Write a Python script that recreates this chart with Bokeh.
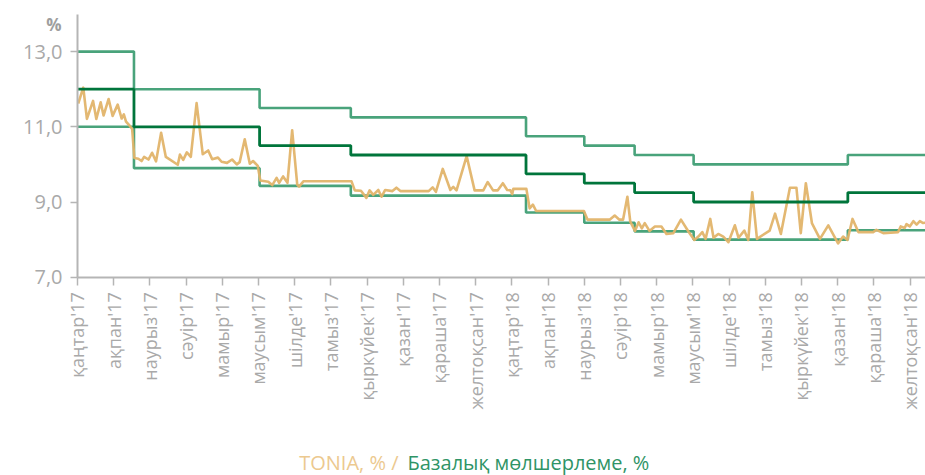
from bokeh.plotting import figure
from bokeh.models import FixedTicker, Range1d, Label
from bokeh.embed import file_html
from bokeh.resources import INLINE
import math

# Month labels (x axis, one tick per month, x measured in months since Jan 2017)
months = ["қаңтар'17", "ақпан'17", "наурыз'17", "сәуір'17", "мамыр'17", "маусым'17",
          "шілде'17", "тамыз'17", "қыркүйек'17", "қазан'17", "қараша'17", "желтоқсан'17",
          "қаңтар'18", "ақпан'18", "наурыз'18", "сәуір'18", "мамыр'18", "маусым'18",
          "шілде'18", "тамыз'18", "қыркүйек'18", "қазан'18", "қараша'18", "желтоқсан'18"]

# Base rate and corridor: change points (month index) and levels, %
rate_change_m = [0.0, 1.56, 5.03, 7.55, 12.39, 14.0, 15.39, 17.02, 21.28, 23.45]
base_rate = [12.0, 11.0, 10.5, 10.25, 9.75, 9.5, 9.25, 9.0, 9.25]
upper_band = [13.0, 12.0, 11.5, 11.25, 10.75, 10.5, 10.25, 10.0, 10.25]
lower_band = [11.0, 9.9, 9.43, 9.17, 8.72, 8.45, 8.22, 8.0, 8.25]

# TONIA, %
tonia_m = [0.02, 0.16, 0.26, 0.43, 0.52, 0.64, 0.72, 0.86, 0.97, 1.11, 1.22, 1.28, 1.34, 1.44, 1.51,
           1.57, 1.68, 1.77, 1.84, 1.96, 2.06, 2.17, 2.31, 2.44, 2.77, 2.83, 2.92, 3.02, 3.13, 3.29,
           3.46, 3.61, 3.72, 3.88, 3.98, 4.13, 4.27, 4.40, 4.48, 4.62, 4.76, 4.85, 4.98, 5.05, 5.27,
           5.38, 5.50, 5.57, 5.68, 5.80, 5.93, 6.07, 6.12, 6.24, 7.57, 7.66, 7.83, 7.98, 8.07, 8.17,
           8.31, 8.40, 8.50, 8.70, 8.81, 8.92, 9.70, 9.81, 9.90, 10.09, 10.30, 10.38, 10.47, 10.75,
           10.97, 11.21, 11.33, 11.48, 11.61, 11.75, 11.87, 11.96, 12.01, 12.04, 12.40, 12.49, 12.58,
           12.67, 13.99, 14.09, 14.70, 14.84, 14.97, 15.07, 15.19, 15.27, 15.40, 15.50, 15.59, 15.67,
           15.80, 15.95, 16.13, 16.27, 16.46, 16.67, 16.88, 17.04, 17.15, 17.26, 17.35, 17.48, 17.57,
           17.70, 17.84, 17.98, 18.16, 18.26, 18.42, 18.53, 18.64, 18.77, 19.12, 19.27, 19.43, 19.68,
           19.86, 19.98, 20.12, 20.29, 20.51, 20.74, 21.01, 21.15, 21.27, 21.41, 21.57, 21.98, 22.07,
           22.26, 22.67, 22.74, 22.85, 22.90, 22.99, 23.09, 23.18, 23.27, 23.36, 23.44]
tonia = [11.62, 12.04, 11.21, 11.69, 11.21, 11.65, 11.30, 11.74, 11.29, 11.59, 11.22, 11.33, 11.14, 11.03, 10.94,
         10.17, 10.15, 10.09, 10.20, 10.13, 10.31, 10.08, 10.84, 10.20, 9.99, 10.26, 10.12, 10.32, 10.20, 11.63,
         10.27, 10.37, 10.14, 10.18, 10.07, 10.04, 10.13, 10.00, 10.06, 10.67, 10.02, 10.09, 9.96, 9.57, 9.54,
         9.45, 9.64, 9.51, 9.68, 9.51, 10.91, 9.46, 9.41, 9.55, 9.55, 9.31, 9.30, 9.11, 9.31, 9.19,
         9.32, 9.14, 9.32, 9.29, 9.38, 9.29, 9.29, 9.39, 9.27, 9.88, 9.32, 9.40, 9.31, 10.22,
         9.31, 9.31, 9.53, 9.31, 9.31, 9.50, 9.32, 9.31, 9.21, 9.35, 9.35, 8.83, 8.93,
         8.76, 8.76, 8.53, 8.53, 8.64, 8.53, 8.53, 9.14, 8.48, 8.23, 8.46, 8.30, 8.44,
         8.23, 8.35, 8.35, 8.15, 8.17, 8.53, 8.21, 7.99, 8.08, 8.20, 8.02, 8.55, 8.05,
         8.15, 8.08, 7.93, 8.38, 8.05, 8.24, 7.99, 9.26, 8.02, 8.24, 8.69, 8.15, 9.38,
         9.38, 8.17, 9.50, 8.43, 8.02, 8.38, 7.90, 8.08, 7.99, 8.55, 8.20, 8.20, 8.26,
         8.17, 8.20, 8.35, 8.31, 8.41, 8.35, 8.49, 8.40, 8.49, 8.44, 8.45]

y_ticks = [7, 9, 11, 13]
y_tick_labels = ["7,0", "9,0", "11,0", "13,0"]

FONT = "Open Sans"
TONIA_COLOR = "#e2b46a"
BAND_COLOR = "#3f9e74"
BASE_COLOR = "#00753b"
AXIS_GREY = "#b5b5b5"
TEXT_GREY = "#a9a9a9"

# layout geometry (pixels)
W, H = 925, 475
AX_X, AX_Y = 77.0, 276.7       # pixel position of x=0 / y=7 (axes origin)
PX_PER_MONTH, PX_PER_PCT = 36.2, 37.6

x0 = -AX_X / PX_PER_MONTH
y1 = 7 + AX_Y / PX_PER_PCT
p = figure(width=W, height=H, output_backend="svg", toolbar_location=None,
           x_range=Range1d(x0, x0 + W / PX_PER_MONTH),
           y_range=Range1d(y1 - H / PX_PER_PCT, y1),
           min_border=0)
p.outline_line_color = None
p.grid.grid_line_color = None
p.background_fill_color = "white"
p.border_fill_color = "white"

def steps(vals):
    return list(vals) + [vals[-1]]

p.step(rate_change_m, steps(upper_band), mode="after", line_color=BAND_COLOR, line_width=2.6, line_alpha=0.95)
p.step(rate_change_m, steps(lower_band), mode="after", line_color=BAND_COLOR, line_width=2.6, line_alpha=0.95)
p.line(tonia_m, tonia, line_color=TONIA_COLOR, line_width=2.6, line_alpha=0.95, line_join="round")
p.step(rate_change_m, steps(base_rate), mode="after", line_color=BASE_COLOR, line_width=2.8)

# x axis
xa = p.xaxis[0]
xa.fixed_location = 7
xa.bounds = (0, rate_change_m[-1])
xa.ticker = FixedTicker(ticks=list(range(len(months))))
xa.major_label_overrides = {i: m for i, m in enumerate(months)}
xa.major_label_orientation = math.pi / 2
xa.axis_line_color = AXIS_GREY
xa.axis_line_width = 2
xa.major_tick_line_color = AXIS_GREY
xa.major_tick_line_width = 1.5
xa.major_tick_out = 8
xa.major_tick_in = 0
xa.minor_tick_line_color = None
xa.major_label_text_font = FONT
xa.major_label_text_font_size = "18px"
xa.major_label_text_color = TEXT_GREY
xa.major_label_standoff = 7

# y axis
ya = p.yaxis[0]
ya.fixed_location = 0
ya.bounds = (7, 14)
ya.ticker = FixedTicker(ticks=y_ticks)
ya.major_label_overrides = {t: l for t, l in zip(y_ticks, y_tick_labels)}
ya.axis_line_color = AXIS_GREY
ya.axis_line_width = 2
ya.major_tick_line_color = AXIS_GREY
ya.major_tick_line_width = 1.5
ya.major_tick_out = 7
ya.major_tick_in = 0
ya.minor_tick_line_color = None
ya.major_label_text_font = FONT
ya.major_label_text_font_size = "20px"
ya.major_label_text_color = TEXT_GREY
ya.major_label_standoff = 8

# unit label
p.add_layout(Label(x=61, y=H - 24, x_units="screen", y_units="screen", text="%",
                   text_font=FONT, text_font_size="17px", text_font_style="bold",
                   text_color="#9e9e9e", text_align="right", text_baseline="middle"))

# legend text
LEG_Y = H - 462
p.add_layout(Label(x=398, y=LEG_Y, x_units="screen", y_units="screen", text="TONIA, % /",
                   text_font=FONT, text_font_size="20px", text_color="#ecc98f",
                   text_align="right", text_baseline="middle"))
p.add_layout(Label(x=407, y=LEG_Y, x_units="screen", y_units="screen", text="Базалық мөлшерлеме, %",
                   text_font=FONT, text_font_size="20px", text_color="#2f9466",
                   text_align="left", text_baseline="middle"))

open("out.html", "w").write(file_html(p, INLINE))
